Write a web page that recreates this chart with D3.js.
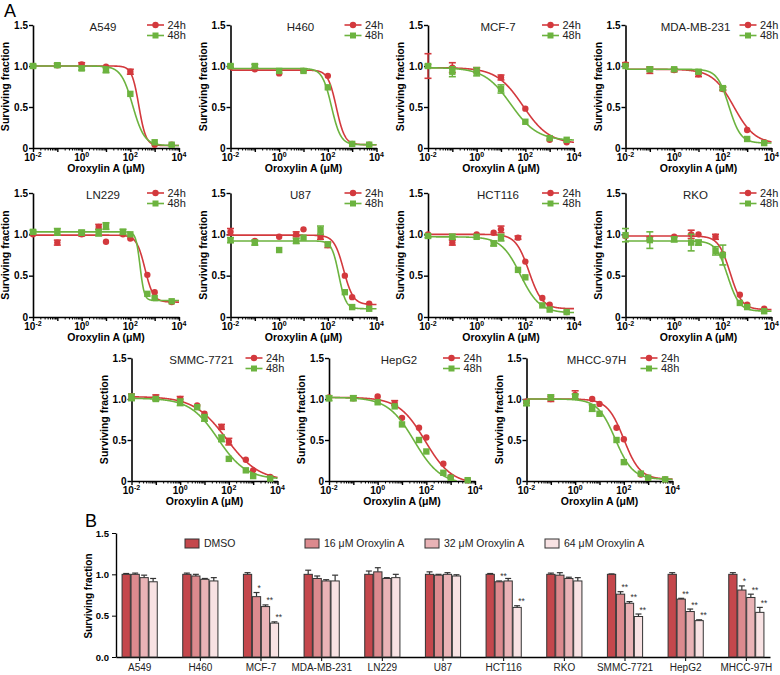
<!DOCTYPE html>
<html><head><meta charset="utf-8">
<script src="https://cdn.jsdelivr.net/npm/d3@7"></script>
<style>body{margin:0;background:#fff}svg{display:block}text{font-family:"Liberation Sans",Arial,Helvetica,sans-serif}</style>
</head><body><svg id="c" width="780" height="675"></svg>
<script>
// ---------- Panel A data ----------
const cellLines = ["A549","H460","MCF-7","MDA-MB-231","LN229","U87","HCT116","RKO","SMMC-7721","HepG2","MHCC-97H"];
const doses7 = [0.01,0.1,1,10,100,1000,5000];
const doses10 = [0.01,0.1,1,5,10,50,100,500,1000,5000];
const panelDoses = [doses7,doses7,doses7,doses7,doses10,doses10,doses10,doses10,doses10,doses10,doses10];
const resp24 = [
  [1.0,1.01,1.02,0.99,0.93,0.04,0.04],
  [0.99,0.96,0.91,0.94,0.88,0.05,0.04],
  [1.0,0.98,0.95,0.86,0.48,0.1,0.07],
  [1.02,0.95,0.95,0.9,0.72,0.22,0.07],
  [1.0,0.9,1.0,1.09,0.91,1.0,0.95,0.51,0.3,0.18],
  [1.03,0.92,0.97,1.0,1.06,0.97,0.87,0.5,0.24,0.16],
  [1.0,0.9,1.0,1.02,1.06,0.96,0.67,0.23,0.15,0.06],
  [0.98,0.95,0.97,1.0,1.0,0.97,0.76,0.27,0.15,0.1],
  [1.03,1.02,1.0,0.92,0.82,0.66,0.48,0.26,0.13,0.05],
  [1.02,1.01,1.03,0.95,0.77,0.65,0.53,0.21,0.05,0.01],
  [0.97,1.0,1.05,1.0,0.94,0.65,0.51,0.08,0.04,0.02]
];
const err24 = [
  [0.01,0.02,0.02,0.01,0.03,0.01,0.01],
  [0.01,0.01,0.01,0.01,0.01,0.01,0.01],
  [0.15,0.06,0.03,0.03,0.01,0.01,0.01],
  [0.02,0.04,0.02,0.03,0.02,0.01,0.01],
  [0.01,0.03,0.02,0.03,0.01,0.01,0.01,0.01,0.01,0.01],
  [0.04,0.01,0.01,0.03,0.01,0.03,0.03,0.01,0.01,0.01],
  [0.01,0.03,0.01,0.01,0.04,0.02,0.01,0.01,0.01,0.01],
  [0.01,0.02,0.01,0.05,0.01,0.03,0.01,0.01,0.01,0.01],
  [0.03,0.03,0.03,0.01,0.01,0.03,0.04,0.01,0.01,0.01],
  [0.01,0.01,0.01,0.03,0.01,0.01,0.01,0.01,0.01,0.01],
  [0.02,0.03,0.05,0.01,0.01,0.01,0.01,0.01,0.01,0.01]
];
const resp48 = [
  [1.0,1.01,0.97,0.95,0.66,0.07,0.04],
  [1.0,1.0,0.94,0.94,0.74,0.05,0.04],
  [1.0,0.93,0.93,0.72,0.32,0.12,0.1],
  [1.0,0.96,0.96,0.93,0.73,0.11,0.06],
  [1.03,1.03,1.02,1.02,1.1,1.03,1.0,0.28,0.23,0.19],
  [0.93,0.9,0.81,0.92,0.96,1.05,0.88,0.3,0.12,0.1],
  [0.98,0.97,0.97,0.89,0.96,0.57,0.48,0.14,0.09,0.06],
  [0.99,0.93,0.94,0.9,0.9,0.8,0.75,0.17,0.12,0.07],
  [1.02,1.0,0.96,0.9,0.77,0.52,0.27,0.13,0.06,0.03],
  [1.01,1.01,0.96,0.91,0.69,0.5,0.36,0.1,0.04,0.01],
  [0.95,1.02,1.03,0.89,0.82,0.5,0.23,0.09,0.04,0.02]
];
const err48 = [
  [0.02,0.02,0.02,0.03,0.01,0.01,0.01],
  [0.02,0.02,0.01,0.01,0.01,0.01,0.01],
  [0.02,0.06,0.05,0.05,0.01,0.01,0.01],
  [0.01,0.02,0.01,0.02,0.02,0.01,0.01],
  [0.02,0.04,0.03,0.04,0.04,0.03,0.01,0.01,0.01,0.01],
  [0.03,0.03,0.01,0.03,0.01,0.05,0.01,0.01,0.01,0.01],
  [0.02,0.03,0.01,0.03,0.04,0.01,0.01,0.01,0.01,0.01],
  [0.08,0.1,0.03,0.1,0.03,0.05,0.12,0.01,0.01,0.01],
  [0.04,0.02,0.04,0.01,0.04,0.04,0.01,0.01,0.01,0.01],
  [0.03,0.03,0.01,0.01,0.01,0.01,0.01,0.01,0.01,0.01],
  [0.03,0.03,0.03,0.04,0.01,0.01,0.01,0.01,0.01,0.01]
];
// fitted 4-parameter logistic curves: [top, bottom, logIC50, hill]
const fit24 = [
  [1.0,0.03,2.35,3],[0.95,0.04,2.35,2.5],[0.98,0.05,1.9,0.8],[0.96,0.05,2.45,1.0],
  [0.99,0.18,2.6,2.5],[0.99,0.15,2.65,2.2],[1.0,0.1,2.15,1.6],[0.98,0.09,2.3,1.8],
  [1.03,0.0,1.9,0.65],[1.02,-0.04,1.95,0.8],[1.0,0.02,2.0,1.3]
];
const fit48 = [
  [1.0,0.03,2.1,1.8],[0.97,0.04,2.15,2.3],[0.98,0.09,1.4,0.8],[0.96,0.06,2.25,1.8],
  [1.03,0.2,2.4,5],[0.92,0.1,2.45,3],[0.97,0.05,1.8,1.1],[0.92,0.07,2.2,1.8],
  [1.01,0.02,1.55,0.75],[1.02,-0.04,1.5,0.8],[1.0,0.02,1.65,1.2]
];
const seriesNames = ["24h","48h"];
const yTicks = [0,0.5,1,1.5];
const yTickLabels = ["0","0.5","1.0","1.5"];
const xTickValues = [0.01,1,100,10000];
const xTickExps = ["-2","0","2","4"];

// ---------- Panel B data ----------
const barGroups = ["A549","H460","MCF-7","MDA-MB-231","LN229","U87","HCT116","RKO","SMMC-7721","HepG2","MHCC-97H"];
const treatments = ["DMSO","16 μM Oroxylin A","32 μM Oroxylin A","64 μM Oroxylin A"];
const barMeans = [
  [1.0,1.0,0.96,0.91],[1.0,0.98,0.94,0.92],[1.0,0.73,0.61,0.41],[1.0,0.95,0.92,0.92],
  [1.0,1.03,0.95,0.96],[1.0,0.99,1.0,0.98],[1.0,0.91,0.92,0.60],[1.0,0.99,0.95,0.92],
  [1.0,0.76,0.65,0.49],[1.0,0.70,0.55,0.44],[1.0,0.81,0.72,0.54]
];
const barErrs = [
  [0.01,0.015,0.03,0.04],[0.015,0.02,0.01,0.04],[0.02,0.05,0.02,0.015],[0.05,0.03,0.015,0.07],
  [0.04,0.05,0.01,0.04],[0.03,0.01,0.02,0.015],[0.01,0.01,0.03,0.02],[0.015,0.03,0.015,0.04],
  [0.005,0.03,0.02,0.03],[0.02,0.01,0.03,0.01],[0.02,0.05,0.04,0.06]
];
const barStars = [
  ["","","",""],["","","",""],["","*","**","**"],["","","",""],
  ["","","",""],["","","",""],["","**","","**"],["","","",""],
  ["","**","**","**"],["","**","**","**"],["","*","**","**"]
];
const barTicks = [0,0.5,1,1.5];
const barTickLabels = ["0.0","0.5","1.0","1.5"];

// ---------- drawing ----------
const svg = d3.select("#c");
const RED = "#d3393d", GREEN = "#6cb33f";
const seriesColors = [RED, GREEN];
const barColors = ["#c4474c","#dc8a8e","#e9b3b6","#f8e2e3"];

svg.append("text").attr("x",4).attr("y",17).attr("font-size",18).text("A");

const rowTop = [25,193,358], rowBot = [148,317,481];
const defs = svg.append("defs");

cellLines.forEach((name,i)=>{
  const row = i<4?0:(i<8?1:2);
  const col = row<2 ? i%4 : i-8;
  const x0 = (row<2?33:131.5) + col*197.5;
  const W = 146;
  const x = d3.scaleLog().domain([0.01,10000]).range([x0,x0+W]);
  const y = d3.scaleLinear().domain([0,1.5]).range([rowBot[row],rowTop[row]]);
  const g = svg.append("g");

  defs.append("clipPath").attr("id","cl"+i).append("rect")
    .attr("x",x0).attr("y",rowTop[row]-5).attr("width",W+4).attr("height",rowBot[row]-rowTop[row]+5);

  const ya = g.append("g").attr("transform",`translate(${x0},0)`)
    .call(d3.axisLeft(y).tickValues(yTicks).tickFormat((d,j)=>yTickLabels[j]).tickSize(4).tickSizeOuter(0));
  ya.select(".domain").attr("stroke-width",1.6);
  ya.selectAll(".tick line").attr("stroke-width",1.4);
  ya.selectAll(".tick text").attr("font-size",10).attr("font-weight","bold").attr("x",-5).attr("font-family",'"Liberation Sans",Arial,sans-serif');

  const majors = d3.range(-2,5).map(e=>Math.pow(10,e));
  const minors = [];
  for(let e=-2;e<4;e++) for(let m=2;m<=9;m++) minors.push(m*Math.pow(10,e));
  const xa = g.append("g").attr("transform",`translate(0,${rowBot[row]})`)
    .call(d3.axisBottom(x).tickValues(majors).tickFormat("").tickSize(4).tickSizeOuter(0));
  xa.select(".domain").attr("stroke-width",1.6);
  xa.selectAll(".tick line").attr("stroke-width",1.4);
  const xm = g.append("g").attr("transform",`translate(0,${rowBot[row]})`)
    .call(d3.axisBottom(x).tickValues(minors).tickFormat("").tickSize(2.5).tickSizeOuter(0));
  xm.select(".domain").remove();
  xm.selectAll(".tick line").attr("stroke-width",1);
  xTickValues.forEach((v,j)=>{
    const t = g.append("text").attr("x",x(v)).attr("y",rowBot[row]+13)
      .attr("text-anchor","middle").attr("font-size",10).attr("font-weight","bold");
    t.append("tspan").text("10");
    t.append("tspan").attr("font-size",7).attr("dy",-4).text(xTickExps[j]);
  });

  g.append("text").attr("transform",`translate(${x0-24},${(rowTop[row]+rowBot[row])/2}) rotate(-90)`)
    .attr("text-anchor","middle").attr("font-size",10.5).attr("font-weight","bold").text("Surviving fraction");
  g.append("text").attr("x",x0+W/2).attr("y",rowBot[row]+24).attr("text-anchor","middle")
    .attr("font-size",10.5).attr("font-weight","bold").text("Oroxylin A (μM)");

  g.append("text").attr("x",x0+70).attr("y",rowTop[row]+6).attr("text-anchor","middle")
    .attr("font-size",11.5).attr("fill","#222").text(name);

  seriesNames.forEach((s,k)=>{
    const ly = rowTop[row] + k*10.5;
    g.append("line").attr("x1",x0+114).attr("x2",x0+131).attr("y1",ly).attr("y2",ly)
      .attr("stroke",seriesColors[k]).attr("stroke-width",1.6);
    if(k===0) g.append("circle").attr("cx",x0+122.5).attr("cy",ly).attr("r",3.2).attr("fill",RED);
    else g.append("rect").attr("x",x0+119.5).attr("y",ly-3).attr("width",6).attr("height",6).attr("fill",GREEN);
    g.append("text").attr("x",x0+134.5).attr("y",ly).attr("dy","0.36em").attr("font-size",11).attr("fill","#222").text(s);
  });

  const doses = panelDoses[i];
  [[resp24[i],err24[i],fit24[i]],[resp48[i],err48[i],fit48[i]]].forEach(([resp,err,fit],k)=>{
    const col = seriesColors[k];
    const [top,bot,lic,h] = fit;
    const xs = d3.range(0,601).map(j=>-2+j*6/600);
    const pts = xs.map(lx=>[lx, bot + (top-bot)/(1+Math.pow(10,(lic-lx)*-h))]).filter(p=>p[1]>=0);
    g.append("path").attr("clip-path",`url(#cl${i})`)
      .attr("d",d3.line().x(p=>x(Math.pow(10,p[0]))).y(p=>y(p[1]))(pts))
      .attr("fill","none").attr("stroke",col).attr("stroke-width",1.6);
    doses.forEach((d,j)=>{
      const cx = x(d), cy = y(resp[j]);
      const e = err[j];
      if(e>0.015){
        g.append("line").attr("x1",cx).attr("x2",cx).attr("y1",y(resp[j]-e)).attr("y2",y(resp[j]+e)).attr("stroke",col).attr("stroke-width",1.4);
        [resp[j]-e,resp[j]+e].forEach(v=>g.append("line").attr("x1",cx-3.5).attr("x2",cx+3.5).attr("y1",y(v)).attr("y2",y(v)).attr("stroke",col).attr("stroke-width",1.6));
      }
      if(k===0) g.append("circle").attr("cx",cx).attr("cy",cy).attr("r",3.2).attr("fill",col);
      else g.append("rect").attr("x",cx-3.2).attr("y",cy-3.2).attr("width",6.4).attr("height",6.4).attr("fill",col);
    });
  });
});

// ---------- Panel B ----------
svg.append("text").attr("x",85).attr("y",527).attr("font-size",18).text("B");
const bx = d3.scaleBand().domain(barGroups).range([116,770]).paddingInner(0.42).paddingOuter(0.1);
const bsub = d3.scaleBand().domain(treatments).range([0,bx.bandwidth()]).paddingInner(0.08);
const by = d3.scaleLinear().domain([0,1.5]).range([657,533]);
const gb = svg.append("g");
const bya = gb.append("g").attr("transform","translate(116,0)")
  .call(d3.axisLeft(by).tickValues(barTicks).tickFormat((d,j)=>barTickLabels[j]).tickSize(4).tickSizeOuter(0));
bya.select(".domain").attr("stroke-width",1.4);
bya.selectAll(".tick text").attr("font-size",9.5).attr("font-weight","bold").attr("font-family",'"Liberation Sans",Arial,sans-serif');
const bxa = gb.append("g").attr("transform","translate(0,657)")
  .call(d3.axisBottom(bx).tickSize(4).tickSizeOuter(0));
bxa.select(".domain").attr("stroke-width",1.4);
bxa.selectAll(".tick text").attr("font-size",10).attr("fill","#222").attr("font-family",'"Liberation Sans",Arial,sans-serif');
gb.append("text").attr("transform","translate(92,596) rotate(-90)").attr("text-anchor","middle")
  .attr("font-size",10).attr("font-weight","bold").text("Surviving fraction");

barGroups.forEach((grp,i)=>{
  treatments.forEach((t,k)=>{
    const bxp = bx(grp)+bsub(t), bw = bsub.bandwidth();
    const m = barMeans[i][k], e = barErrs[i][k];
    const cx = bxp+bw/2;
    gb.append("line").attr("x1",cx).attr("x2",cx).attr("y1",by(m)).attr("y2",by(m+e)).attr("stroke","#333").attr("stroke-width",1.2);
    gb.append("line").attr("x1",cx-3).attr("x2",cx+3).attr("y1",by(m+e)).attr("y2",by(m+e)).attr("stroke","#333").attr("stroke-width",1.2);
    gb.append("rect").attr("x",bxp).attr("y",by(m)).attr("width",bw).attr("height",by(0)-by(m))
      .attr("fill",barColors[k]).attr("stroke","#333").attr("stroke-width",1);
    if(barStars[i][k]) gb.append("text").attr("x",cx+1).attr("y",by(m+e)-1.5).attr("font-size",8.5).attr("fill","#333").text(barStars[i][k]);
  });
});
const legX = [185,305,425,545];
treatments.forEach((t,k)=>{
  gb.append("rect").attr("x",legX[k]).attr("y",539).attr("width",14).attr("height",9)
    .attr("fill",barColors[k]).attr("stroke","#333").attr("stroke-width",1);
  gb.append("text").attr("x",legX[k]+19).attr("y",543.5).attr("dy","0.36em").attr("font-size",10.5).attr("fill","#222").text(t);
});
</script></body></html>
